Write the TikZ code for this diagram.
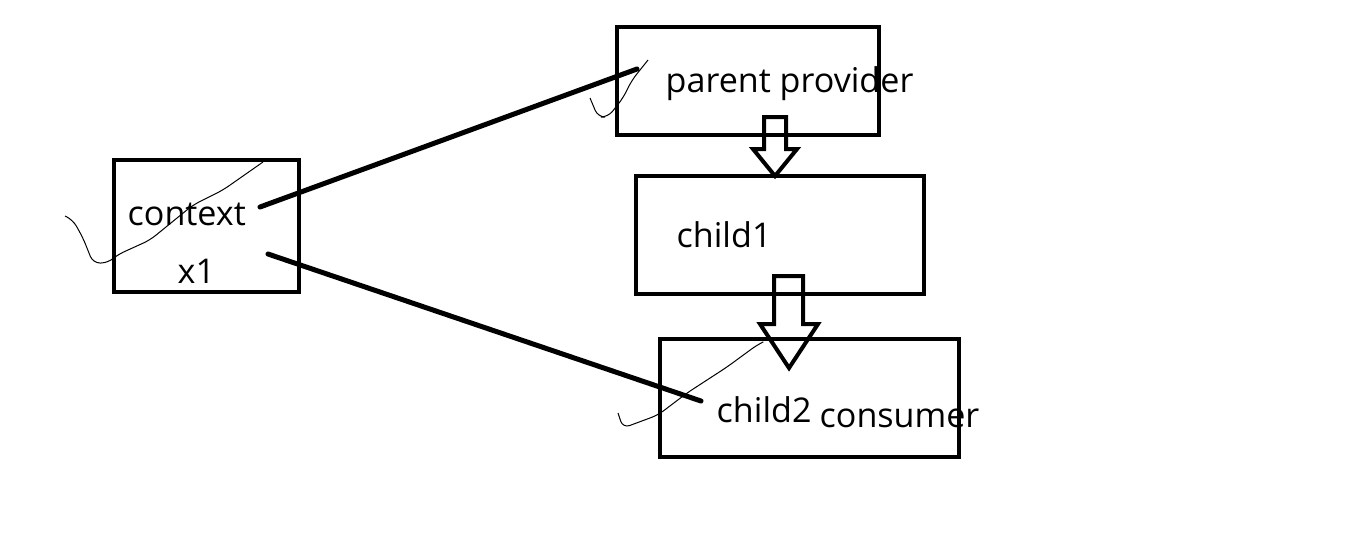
\documentclass[tikz,border=0pt]{standalone}
\usepackage{fontspec}
\setmainfont{Open Sans}
\usetikzlibrary{positioning}
\tikzset{
    %Define style for boxes
    box/.style={
           rectangle,
           draw=black,
           line width=0.4mm,
           inner sep=0pt},
    %Define style for texts
    lbl/.style={
           inner sep=0pt,
           anchor=base west,
           font=\fontsize{9.7pt}{11pt}\selectfont},
    % Define line styles
    wire/.style={
           line width=0.5mm,
           line cap=round},
    scribble/.style={
           line width=0.1mm,
           rounded corners=2pt},
    blockarrow/.style={
           line width=0.4mm,
           miter limit=4}
}
\begin{document}
\begin{tikzpicture}[x=0.1mm,y=-0.1mm]
\useasboundingbox (0,0) rectangle (1350,559);
 %boxes
\node[box, minimum width=18.5mm, minimum height=13.2mm](ctx) at (206.5,226){};
\node[box, minimum width=26.2mm, minimum height=10.8mm](parent) at (748,81){};
\node[box, minimum width=28.8mm, minimum height=11.8mm](child1) at (780,235){};
\node[box, minimum width=29.9mm, minimum height=11.8mm](child2) at (809.5,398){};

 %texts
\node[lbl](ctxtext) at (127,225){context};
\node[lbl](x1) at (177,283){x1};
\node[lbl](parenttext) at (665,92){parent provider};
\node[lbl](child1text) at (676,247){child1};
\node[lbl](child2text) at (716,422){child2};
\node[lbl](consumer) at (819,427){consumer};

 %block arrows
\draw[blockarrow] (764,117) -- (786,117) -- (786,149) -- (797,149) -- (775,176)
    -- (753,149) -- (764,149) -- cycle;
\draw[blockarrow] (774,276) -- (803,276) -- (803,324) -- (818,324) -- (789,368)
    -- (760,324) -- (774,324) -- cycle;

 %connectors
\coordinate (ctxa) at (260,207);
\coordinate (parenta) at (637,69);
\coordinate (ctxb) at (268,254);
\coordinate (child2a) at (701,401);
\draw[wire] (ctxa) -- (parenta);
\draw[wire] (ctxb) -- (child2a);

 %scribbles
\draw[scribble] (65,216) -- (73,220) -- (83,238) -- (93,263) -- (108,263)
    -- (117,255) -- (150,240) -- (193,205) -- (223,190) -- (263,162);
\draw[scribble] (590,98) -- (598,117) -- (608,117) -- (623,98) -- (632,80)
    -- (648,60);
\draw[scribble] (618,413) -- (623,428) -- (658,415) -- (687,393) -- (727,367)
    -- (757,345) -- (763,342);
\end{tikzpicture}
\end{document}
